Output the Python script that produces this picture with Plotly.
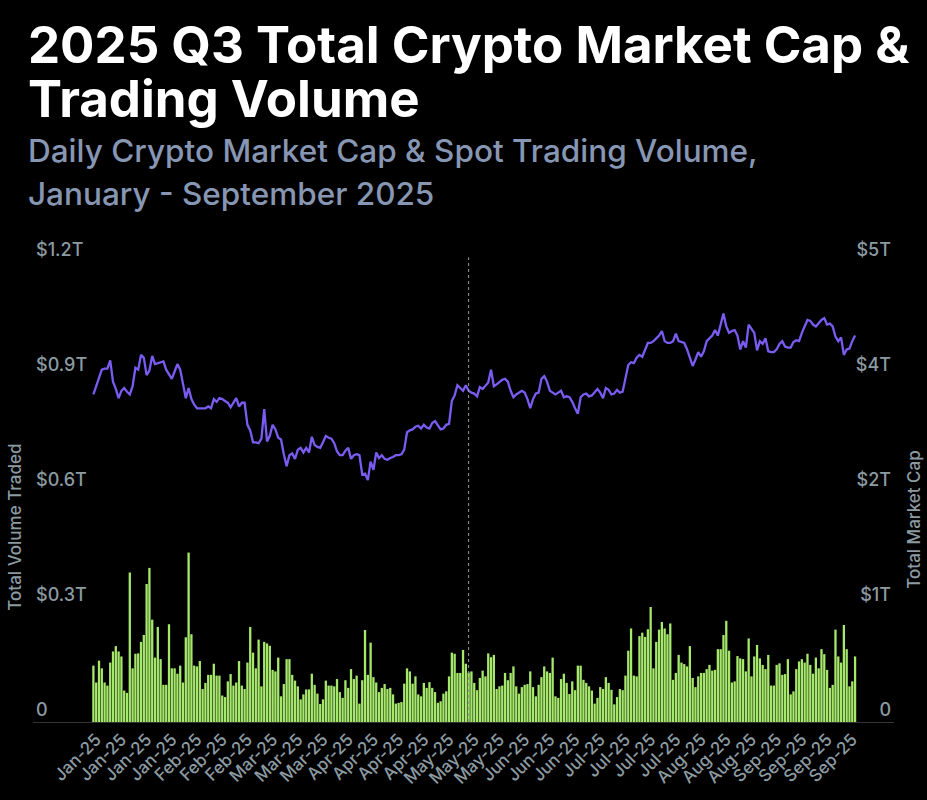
import pandas as pd
import plotly.graph_objects as go

# ---------------- data ----------------
dates = pd.date_range("2025-01-01", "2025-09-30", freq="D")

# daily spot trading volume, in billions of USD
volume_b = [
    147, 103, 160, 140, 103, 95, 155, 184, 198, 184,
    171, 82, 76, 390, 140, 178, 179, 209, 227, 360,
    402, 267, 168, 248, 164, 97, 97, 255, 140, 140,
    126, 147, 103, 221, 442, 229, 147, 145, 159, 86,
    102, 123, 123, 152, 121, 121, 69, 65, 106, 125,
    95, 103, 159, 95, 86, 155, 248, 181, 140, 215,
    93, 209, 205, 199, 136, 132, 168, 67, 99, 164,
    164, 123, 108, 93, 59, 72, 85, 85, 126, 97,
    74, 47, 59, 108, 95, 95, 93, 112, 78, 63,
    109,
    89, 138, 112, 121, 48, 109, 240, 123, 207, 117,
    103, 78, 89, 99, 86, 89, 72, 48, 50, 52,
    100, 140, 132, 100, 119, 72, 67, 102, 89, 104,
    89, 78, 50, 54, 74, 80, 119, 181, 178, 128,
    128, 188, 152, 129, 132, 102, 83, 115, 134, 119,
    179, 169, 175, 86, 93, 95, 128, 109, 128, 145,
    93, 74, 91, 97, 99, 132, 91, 67, 97, 117,
    145, 132, 128, 168, 67, 63, 112, 126, 102, 73,
    106, 83, 147, 147, 110, 102, 93, 82, 48, 63,
    91, 86,
    117, 102, 84, 46, 65, 86, 83, 121, 186, 244,
    121, 119, 224, 233, 222, 242, 300, 140, 209, 241,
    261, 244, 229, 257, 110, 128, 175, 155, 151, 145,
    198, 115, 91, 119, 128, 128, 138, 149, 134, 136,
    190, 190, 227, 264, 186, 103, 106, 172, 166, 164,
    132, 218, 119, 171, 201, 166, 149, 138, 175, 95,
    95, 149, 153, 123, 125, 164, 72, 80, 138, 158,
    164, 155, 178, 149, 126, 168, 140, 190, 177, 136,
    89, 97, 241, 171, 155, 253, 190, 93, 106, 171,
]

# daily total crypto market cap, in trillions of USD
market_cap_t = [
    3.56, 3.65, 3.74, 3.83, 3.84, 3.84, 3.93, 3.70, 3.62, 3.52,
    3.60, 3.63, 3.59, 3.56, 3.65, 3.85, 3.83, 3.99, 3.96, 3.77,
    3.82, 3.98, 3.89, 3.90, 3.91, 3.92, 3.83, 3.78, 3.73, 3.81,
    3.89, 3.83, 3.67, 3.52, 3.63, 3.51, 3.45, 3.41, 3.41, 3.41,
    3.41, 3.43, 3.41, 3.51, 3.48, 3.52, 3.51, 3.49, 3.47, 3.42,
    3.47, 3.52, 3.43, 3.47, 3.47, 3.23, 3.17, 3.04, 3.04, 3.03,
    3.08, 3.40, 3.05, 3.11, 3.23, 3.18, 3.09, 3.07, 2.91, 2.78,
    2.90, 2.92, 2.86, 2.96, 2.98, 2.93, 2.98, 2.93, 3.10, 3.01,
    2.99, 2.98, 3.04, 3.11, 3.09, 3.08, 3.03, 2.94, 2.90, 2.90,
    2.95,
    2.98, 2.86, 2.90, 2.91, 2.90, 2.69, 2.70, 2.63, 2.83, 2.74,
    2.93, 2.87, 2.90, 2.86, 2.85, 2.87, 2.88, 2.90, 2.90, 2.91,
    2.96, 3.15, 3.17, 3.18, 3.21, 3.22, 3.19, 3.23, 3.20, 3.19,
    3.25, 3.27, 3.23, 3.18, 3.19, 3.23, 3.24, 3.49, 3.55, 3.66,
    3.63, 3.60, 3.66, 3.60, 3.58, 3.57, 3.54, 3.64, 3.62, 3.66,
    3.69, 3.83, 3.65, 3.67, 3.70, 3.72, 3.73, 3.70, 3.60, 3.53,
    3.56, 3.58, 3.60, 3.58, 3.51, 3.41, 3.51, 3.57, 3.58, 3.73,
    3.76, 3.70, 3.60, 3.58, 3.56, 3.58, 3.60, 3.53, 3.54, 3.53,
    3.48, 3.41, 3.35, 3.53, 3.56, 3.57, 3.54, 3.55, 3.58, 3.62,
    3.58, 3.52,
    3.63, 3.61, 3.56, 3.57, 3.61, 3.58, 3.59, 3.73, 3.88, 3.91,
    3.90, 3.96, 3.99, 3.97, 4.04, 4.12, 4.12, 4.14, 4.17, 4.20,
    4.25, 4.14, 4.12, 4.12, 4.14, 4.22, 4.14, 4.13, 4.12, 4.05,
    3.95, 3.87, 3.94, 4.02, 3.97, 4.03, 4.14, 4.17, 4.20, 4.26,
    4.20, 4.32, 4.44, 4.30, 4.23, 4.25, 4.26, 4.20, 4.05, 4.14,
    4.07, 4.32, 4.27, 4.23, 4.04, 4.14, 4.11, 4.17, 4.03, 4.02,
    4.02, 4.05, 4.11, 4.14, 4.08, 4.07, 4.07, 4.13, 4.15, 4.14,
    4.23, 4.31, 4.37, 4.36, 4.32, 4.30, 4.34, 4.37, 4.39, 4.32,
    4.33, 4.30, 4.19, 4.14, 4.18, 3.99, 4.05, 4.06, 4.14, 4.20,
]

volume_t = [v / 1000 for v in volume_b]

# axis ticks
left_tickvals = [0, 0.3, 0.6, 0.9, 1.2]
left_ticktext = ["0", "$0.3T", "$0.6T", "$0.9T", "$1.2T"]
right_tickvals = [0, 1.25, 2.5, 3.75, 5]
right_ticktext = ["0", "$1T", "$2T", "$4T", "$5T"]
x_tickvals = list(dates[1::9])
marker_date = dates[134]

title_lines = ["2025 Q3 Total Crypto Market Cap &", "Trading Volume"]
subtitle_lines = ["Daily Crypto Market Cap & Spot Trading Volume,", "January - September 2025"]

# ---------------- figure ----------------
FONT = "Inter"
TICK_COLOR = "#8c9ba2"
SUB_COLOR = "#8797b3"

fig = go.Figure()
fig.add_trace(go.Bar(
    x=dates, y=volume_t, name="Total Volume Traded",
    marker=dict(color="#a6e86c", line=dict(width=0)),
    yaxis="y", hoverinfo="skip",
))
fig.add_trace(go.Scatter(
    x=dates, y=market_cap_t, name="Total Market Cap", mode="lines",
    line=dict(color="#7a5cf2", width=2.3),
    yaxis="y2", hoverinfo="skip",
))

x_start = dates[0] - pd.Timedelta(days=21.57)
x_end = dates[0] + pd.Timedelta(days=285.9)

yfont = dict(family=FONT, size=18, color=TICK_COLOR, weight=500)

fig.update_layout(
    width=927, height=800,
    paper_bgcolor="#000000", plot_bgcolor="#000000",
    margin=dict(l=33, r=33, t=262, b=74, pad=0),
    showlegend=False,
    bargap=0.18,
    font=dict(family=FONT, color=TICK_COLOR),
    xaxis=dict(
        type="date", range=[x_start, x_end],
        tickvals=x_tickvals, tickformat="%b-%y", tickangle=-45,
        tickfont=dict(family=FONT, size=17, color=TICK_COLOR, weight=500),
        showgrid=False, zeroline=False,
        showline=True, linecolor="#333333", linewidth=1,
        ticks="", fixedrange=True,
    ),
    yaxis=dict(
        range=[0, 1.2], tickvals=left_tickvals, ticktext=left_ticktext,
        ticklabelposition="inside", ticklabelshift=-12, ticklabeloverflow="allow",
        tickfont=yfont, fixedrange=True,
        showgrid=False, zeroline=False, showline=False, ticks="",
    ),
    yaxis2=dict(
        range=[0, 5], tickvals=right_tickvals, ticktext=right_ticktext,
        overlaying="y", side="right",
        ticklabelposition="inside", ticklabelshift=-12, ticklabeloverflow="allow",
        tickfont=yfont, fixedrange=True,
        showgrid=False, zeroline=False, showline=False, ticks="",
    ),
    shapes=[dict(
        type="line", xref="x", yref="paper",
        x0=marker_date, x1=marker_date, y0=0, y1=1.01,
        line=dict(color="#9a9a9a", width=1, dash="dot"),
    )],
)

PLOT_TOP = 262.0
PLOT_BOT = 726.0
PLOT_H = PLOT_BOT - PLOT_TOP
PLOT_W = 861.0

def py(ypx):
    return (PLOT_BOT - ypx) / PLOT_H

def px(xpx):
    return (xpx - 33) / PLOT_W

ann = []
for txt, ycen in zip(title_lines, [43, 97]):
    ann.append(dict(text=txt, x=px(26), y=py(ycen), xref="paper", yref="paper",
                    xanchor="left", yanchor="middle", showarrow=False,
                    font=dict(family=FONT, size=51, color="#ffffff", weight=700)))
for txt, ycen in zip(subtitle_lines, [150, 193]):
    ann.append(dict(text=txt, x=px(26), y=py(ycen), xref="paper", yref="paper",
                    xanchor="left", yanchor="middle", showarrow=False,
                    font=dict(family=FONT, size=31.5, color=SUB_COLOR, weight=500)))
ann.append(dict(text="Total Volume Traded", x=px(15), y=py(530), xref="paper", yref="paper",
                xanchor="center", yanchor="middle", textangle=-90, showarrow=False,
                font=dict(family=FONT, size=17, color=TICK_COLOR, weight=500)))
ann.append(dict(text="Total Market Cap", x=px(914), y=py(522), xref="paper", yref="paper",
                xanchor="center", yanchor="middle", textangle=-90, showarrow=False,
                font=dict(family=FONT, size=17, color=TICK_COLOR, weight=500)))
fig.update_layout(annotations=ann)

fig.write_html(
    "out.html",
    config={"displayModeBar": False, "staticPlot": True},
    post_script="document.body.style.margin='0px';document.body.style.background='#000000';",
)
